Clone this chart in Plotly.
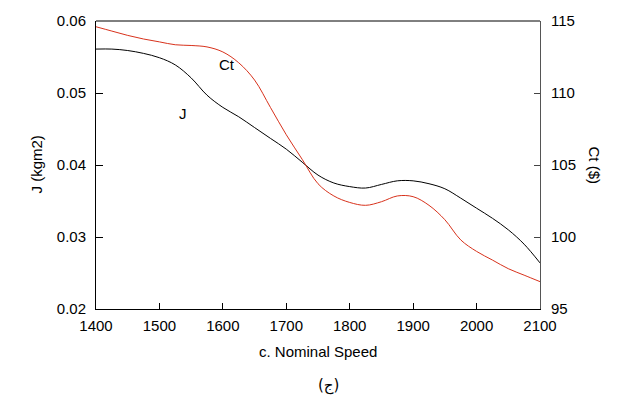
import plotly.graph_objects as go

# Nominal speed (x) samples
speed = [1400, 1425, 1450, 1475, 1500, 1525, 1550, 1575, 1600, 1625, 1650, 1675, 1700,
         1725, 1750, 1775, 1800, 1825, 1850, 1875, 1900, 1925, 1950, 1975, 2000, 2025,
         2050, 2075, 2100]

# Inertia J (kg m^2), left axis
inertia_j = [0.0561, 0.0561, 0.0559, 0.0555, 0.0549, 0.0539, 0.0521, 0.0497, 0.0480,
             0.0467, 0.0452, 0.0437, 0.0422, 0.0404, 0.0386, 0.0375, 0.0370, 0.0368,
             0.0373, 0.0378, 0.0378, 0.0374, 0.0367, 0.0354, 0.0340, 0.0326, 0.0310,
             0.0290, 0.0264]

# Total cost Ct ($), right axis
cost_ct = [114.6, 114.3, 114.0, 113.75, 113.55, 113.35, 113.3, 113.2, 112.85, 112.1,
           110.9, 109.0, 107.1, 105.4, 103.7, 102.85, 102.4, 102.2, 102.45, 102.85,
           102.8, 102.2, 101.2, 99.8, 99.0, 98.4, 97.8, 97.35, 96.9]

x_ticks = [1400, 1500, 1600, 1700, 1800, 1900, 2000, 2100]
j_ticks = [0.02, 0.03, 0.04, 0.05, 0.06]
ct_ticks = [95, 100, 105, 110, 115]

FONT = "Arial, Liberation Sans, sans-serif"

fig = go.Figure()
fig.add_trace(go.Scatter(x=speed, y=inertia_j, mode="lines",
                         line=dict(color="black", width=1, shape="spline", smoothing=1.0),
                         showlegend=False))
fig.add_trace(go.Scatter(x=speed, y=cost_ct, mode="lines", yaxis="y2",
                         line=dict(color="#d8321c", width=1, shape="spline", smoothing=1.0),
                         showlegend=False))

fig.update_layout(
    width=624, height=399,
    margin=dict(l=96, r=84, t=16, b=90),
    paper_bgcolor="white", plot_bgcolor="white",
    font=dict(family=FONT, size=15, color="black"),
    xaxis=dict(range=[1400, 2100], tickvals=x_ticks, ticks="inside", ticklen=6,
               tickcolor="black", showgrid=False, zeroline=False,
               showline=True, linecolor="black", linewidth=1, mirror=False,
               tickfont=dict(size=15), ticklabelstandoff=3),
    yaxis=dict(range=[0.02, 0.06], tickvals=j_ticks, tickformat=".2f",
               ticks="inside", ticklen=7, tickcolor="black", showgrid=False,
               zeroline=False, showline=True, linecolor="black", linewidth=1,
               tickfont=dict(size=15), ticklabelstandoff=6),
    yaxis2=dict(range=[95, 115], tickvals=ct_ticks, overlaying="y", side="right",
                ticks="inside", ticklen=6, tickcolor="#444", showgrid=False,
                zeroline=False, showline=True, linecolor="#555", linewidth=1,
                tickfont=dict(size=15), ticklabelstandoff=7),
    shapes=[dict(type="line", xref="paper", yref="paper", x0=0, x1=1, y0=1, y1=1,
                 line=dict(color="black", width=1))],
    annotations=[
        dict(text="Ct", x=1607, y=0.0540, xref="x", yref="y", showarrow=False,
             font=dict(size=15)),
        dict(text="J", x=1537, y=0.0472, xref="x", yref="y", showarrow=False,
             font=dict(size=15)),
        dict(text="c. Nominal Speed", x=0.5, y=-0.147, xref="paper", yref="paper",
             showarrow=False, yanchor="middle", font=dict(size=15)),
        dict(text="J (kgm2)", x=0, y=0.5, xref="paper", yref="paper", xshift=-71,
             showarrow=False, textangle=-90, font=dict(size=15)),
        dict(text="Ct ($)", x=1.0, y=0.5, xref="paper", yref="paper", xshift=65,
             showarrow=False, textangle=90, font=dict(size=15)),
        dict(text="(ج)", x=0.524, y=-0.266, xref="paper", yref="paper",
             showarrow=False, yanchor="middle",
             font=dict(size=15, family="DejaVu Sans, Noto Sans, sans-serif")),
    ],
)

fig.write_html("out.html")
